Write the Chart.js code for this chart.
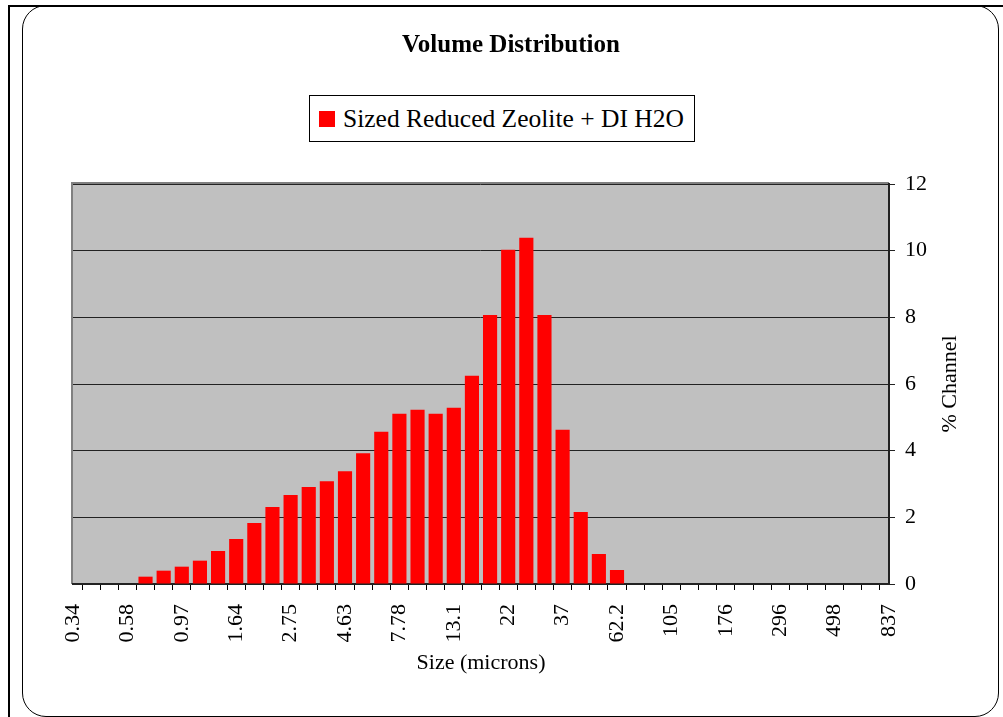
<!DOCTYPE html>
<html>
<head>
<meta charset="utf-8">
<title>Volume Distribution</title>
<script src="https://cdn.jsdelivr.net/npm/chart.js@4.4.1/dist/chart.umd.min.js"></script>
<style>
    html, body { margin: 0; padding: 0; background: #fff; }
    #wrap { position: relative; width: 1003px; height: 717px; overflow: hidden; }
    .outer { position: absolute; left: 8px; top: 5px; right: 0; bottom: -5px;
             border-left: 2px solid #000; border-top: 2px solid #000; }
    .inner { position: absolute; left: 22px; top: 5px; width: 977px; height: 712px; box-sizing: border-box;
             border: 1.5px solid #000; border-radius: 24px; }
    #chart { position: absolute; left: 0; top: 0; }
    #legend { position: absolute; left: 309px; top: 95px; height: 47px; box-sizing: border-box;
              border: 1px solid #000; background: #fff; display: flex; align-items: center;
              padding: 0 10px 0 9px; font: 25.5px 'Liberation Serif', 'Times New Roman', serif; color: #000; }
    #legend .box { display: inline-block; width: 16px; height: 16px; margin-right: 8px; }
</style>
</head>
<body>
<div id="wrap">
    <div class="outer"></div>
    <div class="inner"></div>
    <canvas id="chart" width="1003" height="717"></canvas>
    <div id="legend"></div>
</div>
<script>
// Tamaños de canal (micras), uno por categoría
const sizes = ['0.34', '0.40', '0.48', '0.58', '0.69', '0.82', '0.97', '1.16', '1.38', '1.64',
               '1.95', '2.31', '2.75', '3.27', '3.89', '4.63', '5.50', '6.54', '7.78', '9.25',
               '11.0', '13.1', '15.6', '18.5', '22', '26.2', '31.1', '37', '44.0', '52.3',
               '62.2', '74.0', '88.0', '105', '125', '148', '176', '209', '249', '296',
               '352', '419', '498', '592', '704', '837'];

// % Channel por tamaño
const channelPct = [0, 0, 0, 0, 0.22, 0.40, 0.52, 0.70, 0.99, 1.35,
                    1.83, 2.31, 2.67, 2.91, 3.08, 3.38, 3.92, 4.57, 5.11, 5.23,
                    5.11, 5.29, 6.25, 8.07, 10.03, 10.39, 8.07, 4.63, 2.16, 0.90,
                    0.42, 0, 0, 0, 0, 0, 0, 0, 0, 0,
                    0, 0, 0, 0, 0, 0];

const yTicks = [0, 2, 4, 6, 8, 10, 12];
const seriesName = 'Sized Reduced Zeolite + DI H2O';
const fontFamily = "'Liberation Serif', 'Times New Roman', serif";

// Fondo gris del área de trazado
const plotBackground = {
    id: 'plotBackground',
    beforeDraw(chart) {
        const {ctx, chartArea: a} = chart;
        ctx.save();
        ctx.fillStyle = '#C0C0C0';
        ctx.fillRect(a.left, a.top, a.right - a.left, a.bottom - a.top);
        ctx.strokeStyle = '#808080';
        ctx.lineWidth = 2;
        ctx.beginPath();
        ctx.moveTo(a.left - 1, a.bottom);
        ctx.lineTo(a.left - 1, a.top - 1);
        ctx.lineTo(a.right, a.top - 1);
        ctx.stroke();
        ctx.restore();
    }
};

// Título del eje derecho, leído de abajo hacia arriba
const rightAxisTitle = {
    id: 'rightAxisTitle',
    afterDraw(chart) {
        const {ctx, chartArea: a} = chart;
        const scale = chart.scales.y;
        ctx.save();
        ctx.translate(scale.left + 61, (a.top + a.bottom) / 2);
        ctx.rotate(-Math.PI / 2);
        ctx.textAlign = 'center';
        ctx.textBaseline = 'middle';
        ctx.fillStyle = '#000';
        ctx.font = '22px ' + fontFamily;
        ctx.fillText('% Channel', 0, 0);
        ctx.restore();
    }
};

// Leyenda en HTML con recuadro
const htmlLegend = {
    id: 'htmlLegend',
    afterUpdate(chart) {
        const container = document.getElementById('legend');
        container.innerHTML = '';
        const items = chart.options.plugins.legend.labels.generateLabels(chart);
        items.forEach(item => {
            const box = document.createElement('span');
            box.className = 'box';
            box.style.background = item.fillStyle;
            const text = document.createElement('span');
            text.textContent = item.text;
            container.appendChild(box);
            container.appendChild(text);
        });
    }
};

const ctx = document.getElementById('chart').getContext('2d');
const chart = new Chart(ctx, {
    type: 'bar',
    data: {
        labels: sizes,
        datasets: [{
            label: seriesName,
            data: channelPct,
            backgroundColor: '#FF0000',
            borderWidth: 0,
            categoryPercentage: 1,
            barPercentage: 0.78
        }]
    },
    options: {
        responsive: false,
        animation: false,
        layout: {
            padding: { left: 73, right: 54, top: 10, bottom: 33 }
        },
        plugins: {
            legend: { display: false },
            tooltip: { enabled: false },
            title: {
                display: true,
                text: 'Volume Distribution',
                color: '#000',
                font: { family: fontFamily, size: 25, weight: 'bold', lineHeight: 1.2 },
                padding: { top: 21, bottom: 123 }
            }
        },
        scales: {
            x: {
                type: 'category',
                offset: false,
                grid: {
                    display: true,
                    drawOnChartArea: false,
                    drawTicks: true,
                    tickLength: 6,
                    color: '#000'
                },
                border: { display: true, color: '#222', width: 2 },
                ticks: {
                    autoSkip: false,
                    minRotation: 90,
                    maxRotation: 90,
                    padding: 14,
                    color: '#000',
                    font: { family: fontFamily, size: 22 },
                    callback: function(value, index) {
                        return index % 3 === 0 ? this.getLabelForValue(value) : '';
                    }
                },
                title: {
                    display: true,
                    text: 'Size (microns)',
                    color: '#000',
                    font: { family: fontFamily, size: 22, lineHeight: 1.2 },
                    padding: { top: 0, bottom: 8 }
                },
                afterFit: function(scale) {
                    scale.height = 100;
                }
            },
            y: {
                position: 'right',
                min: 0,
                max: 12,
                grid: {
                    color: '#222',
                    lineWidth: 1,
                    tickLength: 6
                },
                border: { display: true, color: '#222', width: 2 },
                ticks: {
                    stepSize: 2,
                    padding: 10,
                    color: '#000',
                    font: { family: fontFamily, size: 22 }
                },
                afterBuildTicks: function(scale) {
                    scale.ticks = yTicks.map(v => ({ value: v }));
                },
                afterFit: function(scale) {
                    scale.width = 60;
                }
            }
        }
    },
    plugins: [plotBackground, rightAxisTitle, htmlLegend]
});
</script>
</body>
</html>
